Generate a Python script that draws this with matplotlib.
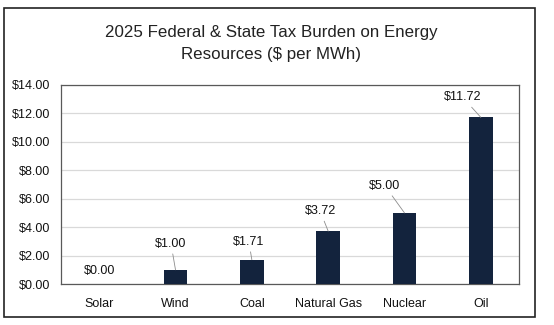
import matplotlib
matplotlib.use("Agg")
import matplotlib.pyplot as plt
from matplotlib.patches import Rectangle
import numpy as np

# data
categories = ["Solar", "Wind", "Coal", "Natural Gas", "Nuclear", "Oil"]
tax_per_mwh = [0.00, 1.00, 1.71, 3.72, 5.00, 11.72]
y_ticks = [0, 2, 4, 6, 8, 10, 12, 14]

# label offsets in pixels from the top of each bar (dx, dy)
label_offsets = [(0, 13), (-4.5, 26), (-3, 18), (-8, 20), (-19.5, 27), (-18, 20)]

bar_color = "#13233D"
plt.rcParams["font.family"] = ["Liberation Sans", "DejaVu Sans"]

fig = plt.figure(figsize=(5.54, 3.25), dpi=100)
ax = fig.add_axes([61/554, 1-284/325, 458/554, 199/325])

x = np.arange(len(categories))
ax.bar(x, tax_per_mwh, width=0.31, color=bar_color, zorder=3)

ax.set_xlim(-0.5, len(categories) - 0.5)
ax.set_ylim(0, 14)
ax.set_yticks(y_ticks)
ax.set_yticklabels(["${:.2f}".format(v) for v in y_ticks], fontsize=9)
ax.set_xticks(x)
ax.set_xticklabels(categories, fontsize=9)
ax.tick_params(axis="both", length=0, colors="#111111")
ax.tick_params(axis="y", pad=8)
ax.tick_params(axis="x", pad=10)
ax.grid(axis="y", color="#D9D9D9", linewidth=0.9, zorder=0)
for s in ax.spines.values():
    s.set_color("#595959")
    s.set_linewidth(0.9)

for i, (v, off) in enumerate(zip(tax_per_mwh, label_offsets)):
    if off[0] == 0:
        ax.annotate("${:.2f}".format(v), (i, v), xytext=off, textcoords="offset pixels",
                    ha="center", va="center", fontsize=9, color="#111111")
    else:
        ax.annotate("${:.2f}".format(v), (i, v), xytext=off, textcoords="offset pixels",
                    ha="center", va="center", fontsize=9, color="#111111",
                    arrowprops=dict(arrowstyle="-", color="#8C8C8C", lw=0.6,
                                    shrinkA=1, shrinkB=0))

fig.text(0.490, 1-32/325, "2025 Federal & State Tax Burden on Energy",
         ha="center", va="center", fontsize=12.2, color="#222222")
fig.text(0.490, 1-55/325, "Resources ($ per MWh)",
         ha="center", va="center", fontsize=12.2, color="#222222")

fig.patches.append(Rectangle((4/554, 1-317/325), 531/554, 309/325,
                             transform=fig.transFigure, fill=False,
                             edgecolor="#222222", linewidth=1.2))

fig.savefig("out.png", dpi=100)
